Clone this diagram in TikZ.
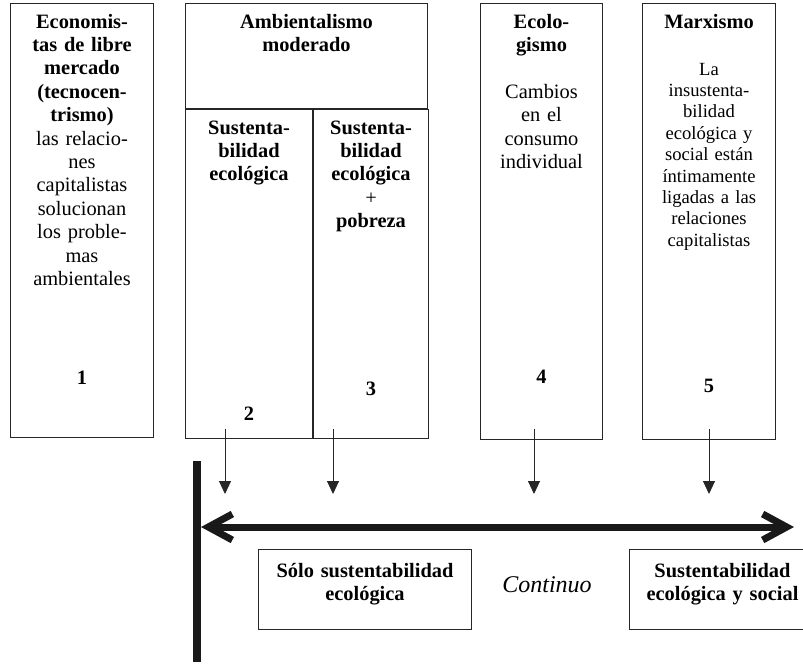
\documentclass[tikz,border=0pt]{standalone}
\usepackage{fontspec}
\setmainfont{Liberation Serif}
\usepackage{tikz}
\usetikzlibrary{positioning,arrows.meta}
\tikzstyle{column}=[rectangle, draw=black!85, line width=0.5pt, anchor=north west, inner sep=0pt]
\tikzstyle{coltext}=[text centered, anchor=base, text=black, inner sep=0pt, font=\fontsize{10.2}{11.7}\selectfont]
\tikzstyle{smalltext}=[text centered, anchor=base, text=black, inner sep=0pt, font=\fontsize{9.3}{10.7}\selectfont]
\tikzstyle{number}=[anchor=base, inner sep=0pt, font=\bfseries\fontsize{10.2}{11.7}\selectfont]
\tikzstyle{pointer}=[-{Triangle[length=6.5pt,width=6pt]}, line width=0.5pt, draw=black!85]
\tikzstyle{pole}=[line width=4pt, draw=black!90]
\tikzstyle{continuum}=[{Straight Barb[length=12pt,width=13pt]}-{Straight Barb[length=12pt,width=13pt]}, line width=3.5pt, draw=black!90]

\begin{document}
\begin{tikzpicture}[x=0.5pt, y=-0.5pt]
        \useasboundingbox (0,0) rectangle (803,666);
        % the five positions
        \node(libre)[column, minimum width=71.5pt, minimum height=217pt] at (10,3) {};
        \node(amb)[column, minimum width=121pt, minimum height=52.5pt] at (185,3) {};
        \node(sust)[column, minimum width=63.5pt, minimum height=164.5pt] at (amb.south west) {};
        \node(pobreza)[column, minimum width=57.5pt, minimum height=164.5pt] at (sust.north east) {};
        \node(eco)[column, minimum width=61pt, minimum height=218pt] at (480,3) {};
        \node(marx)[column, minimum width=66.5pt, minimum height=218pt] at (642,3) {};

        \node(libretxt)[coltext, text width=71pt, below=12.5pt of libre.north, anchor=base]{
            \textbf{Economis-\\tas de libre\\mercado\\(tecnocen-\\trismo)}\\las relacio-\\nes\\capitalistas\\solucionan\\los proble-\\mas\\ambientales
        };
        \node(ambtxt)[coltext, text width=120pt, below=12.5pt of amb.north, anchor=base]{
            \textbf{Ambientalismo\\moderado}
        };
        \node(susttxt)[coltext, text width=63pt, below=12.5pt of sust.north, anchor=base]{
            \textbf{Sustenta-\\bilidad\\ecológica}
        };
        \node(pobrezatxt)[coltext, text width=57pt, below=12.5pt of pobreza.north, anchor=base]{
            \textbf{Sustenta-\\bilidad\\ecológica}\\+\\\textbf{pobreza}
        };
        \node(ecotxt)[coltext, text width=60pt, below=12.5pt of eco.north, anchor=base]{
            \textbf{Ecolo-\\gismo}\\[11.7pt]Cambios\\en el\\consumo\\individual
        };
        \node(marxtxt)[coltext, text width=66pt, below=12.5pt of marx.north, anchor=base]{
            \textbf{Marxismo}
        };
        \node(marxbody)[smalltext, text width=66pt, below=36pt of marx.north, anchor=base]{
            La\\insustenta-\\bilidad\\ecológica y\\social están\\íntimamente\\ligadas a las\\relaciones\\capitalistas
        };

        \node(n1)[number, above=27pt of libre.south, anchor=base]{1};
        \node(n2)[number, above=9.5pt of sust.south, anchor=base]{2};
        \node(n3)[number, above=22pt of pobreza.south, anchor=base]{3};
        \node(n4)[number, above=28.5pt of eco.south, anchor=base]{4};
        \node(n5)[number, above=24pt of marx.south, anchor=base]{5};

        % the continuum
        \coordinate(poletop) at (197,461);
        \coordinate(polebottom) at (197,662);
        \draw[pole] (poletop) -- (polebottom);
        \coordinate(left) at (201,527);
        \coordinate(right) at (794,527);
        \draw[continuum] (left) -- (right);

        \coordinate(from2) at (225,429);
        \coordinate(to2) at (225,494);
        \coordinate(from3) at (333,429);
        \coordinate(to3) at (333,494);
        \coordinate(from4) at (534,429);
        \coordinate(to4) at (534,494);
        \coordinate(from5) at (709,429);
        \coordinate(to5) at (709,494);
        \draw[pointer] (from2) -- (to2);
        \draw[pointer] (from3) -- (to3);
        \draw[pointer] (from4) -- (to4);
        \draw[pointer] (from5) -- (to5);

        \node(solo)[column, minimum width=106.5pt, minimum height=40pt] at (258,549) {};
        \node(social)[column, minimum width=93pt, minimum height=40pt] at (629,549) {};
        \node(solotxt)[coltext, text width=105pt, below=14pt of solo.north, anchor=base]{
            \textbf{Sólo sustentabilidad\\ecológica}
        };
        \node(socialtxt)[coltext, text width=92pt, below=14pt of social.north, anchor=base]{
            \textbf{Sustentabilidad\\ecológica y social}
        };
        \node(cont)[anchor=base, inner sep=0pt, font=\itshape\fontsize{12}{14}\selectfont] at (547,592) {Continuo};
\end{tikzpicture}
\end{document}
